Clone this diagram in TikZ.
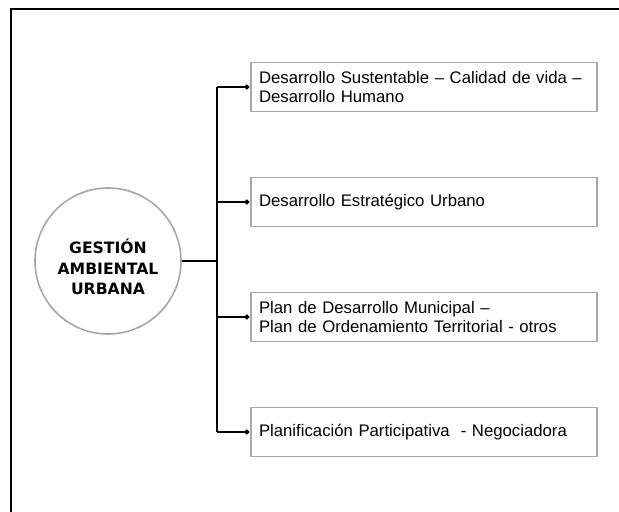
\documentclass[tikz,border=0pt]{standalone}
\usepackage{fontspec}
\setmainfont{Liberation Sans}
\newfontfamily\negrita{DejaVu Sans}
\usetikzlibrary{arrows.meta,positioning}

\begin{document}
\begin{tikzpicture}[x=1bp,y=-1bp,node distance=115bp,on grid,
    caja/.style={draw=gray!70,line width=1.6bp,minimum width=346bp,minimum height=49bp,
                 text width=330bp,inner xsep=8bp,align=left,font=\fontsize{16.8}{20}\selectfont},
    linea/.style={line width=2.5bp},
    rama/.style={linea,-{Circle[length=4.5bp]}}]
    \useasboundingbox (0,0) rectangle (619,512);
    \draw[line width=2bp] (11,512) -- (11,9) -- (619,9);
    \node[circle,draw=gray!70,line width=1.6bp,minimum size=146bp] (gau) at (108,261) {};
    \node[align=center,font=\negrita\bfseries\fontsize{15.7}{20.5}\selectfont] (gau-texto) at ([yshift=-6bp]gau.center) {GESTIÓN\\AMBIENTAL\\URBANA};
    \node[caja] (b1) at (424,87) {Desarrollo Sustentable -- Calidad de vida --\\Desarrollo Humano};
    \node[caja] (b2) [below of=b1] {Desarrollo Estratégico Urbano};
    \node[caja] (b3) [below of=b2] {Plan de Desarrollo Municipal --\\Plan de Ordenamiento Territorial - otros};
    \node[caja] (b4) [below of=b3] {Planificación Participativa\ \ - Negociadora};
    \coordinate (tronco) at (217,261);
    \draw[linea] (gau.east) -- (tronco);
    \draw[linea] (tronco |- b1.west) -- (tronco |- b4.west);
    \foreach \b in {b1,b2,b3,b4}
        \draw[rama] (tronco |- \b.west) -- ([xshift=-1bp]\b.west);
\end{tikzpicture}
\end{document}
